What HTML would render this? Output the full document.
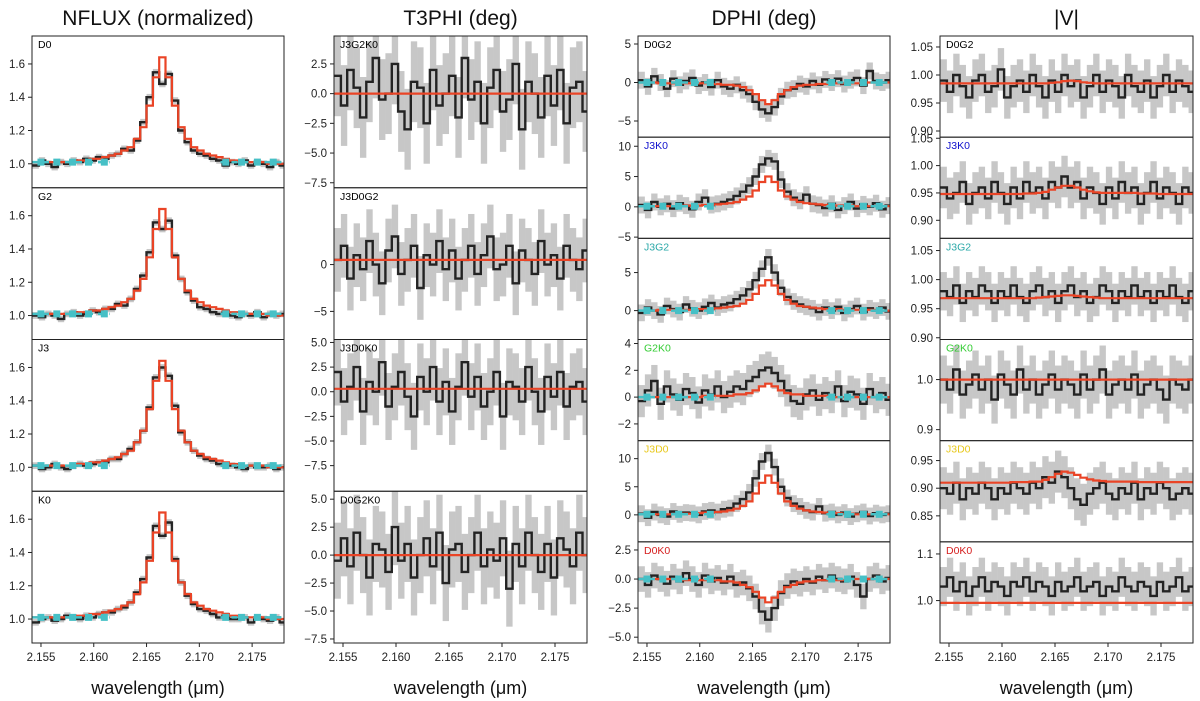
<!DOCTYPE html>
<html><head><meta charset="utf-8"><style>
html,body{margin:0;padding:0;background:#fff;}
svg{display:block;font-family:"Liberation Sans","DejaVu Sans",sans-serif;}
</style></head><body>
<svg id="fig" width="1200" height="701" viewBox="0 0 1200 701" xmlns="http://www.w3.org/2000/svg">
<defs id="defs"></defs>
<g id="root"></g>
</svg>
<script>
// ---- data (bins start 2.1542, width 0.0006, 40 bins) ----
const binStart = 2.1542;
const binWidth = 0.0006;
const xTicks = [2.155, 2.160, 2.165, 2.170, 2.175];
const xTickLabels = ["2.155", "2.160", "2.165", "2.170", "2.175"];
const contWl = [2.155, 2.1565, 2.158, 2.1595, 2.161, 2.1725, 2.174, 2.1755, 2.177];

const nfluxModel = [1.01,1.01,1.01,1.01,1.01,1.01,1.01,1.02,1.02,1.03,1.03,1.04,1.05,1.06,1.08,1.10,1.15,1.22,1.35,1.52,1.64,1.52,1.35,1.22,1.15,1.10,1.08,1.06,1.05,1.04,1.03,1.02,1.02,1.01,1.01,1.01,1.01,1.00,1.00,1.00];
const nfluxD0 = [0.99,1.02,1.00,0.98,1.01,1.00,1.02,1.01,1.03,1.02,1.04,1.03,1.05,1.06,1.09,1.08,1.14,1.25,1.40,1.55,1.48,1.54,1.38,1.20,1.13,1.08,1.06,1.05,1.03,1.02,0.99,1.01,1.00,1.02,0.99,1.01,1.00,0.98,1.01,0.99];
const nfluxG2 = [1.00,0.99,1.01,1.00,0.98,1.01,1.02,1.00,1.01,1.03,1.02,1.04,1.04,1.07,1.06,1.10,1.16,1.24,1.38,1.56,1.52,1.57,1.36,1.22,1.14,1.09,1.05,1.04,1.02,1.01,1.02,1.00,0.99,1.01,1.00,1.02,0.99,1.01,1.00,1.01];
const nfluxJ3 = [1.01,0.99,1.00,1.02,1.00,0.99,1.01,1.02,1.01,1.02,1.03,1.03,1.05,1.05,1.08,1.11,1.15,1.22,1.36,1.54,1.60,1.55,1.37,1.21,1.15,1.10,1.07,1.05,1.04,1.02,1.01,1.01,1.00,0.99,1.01,1.00,1.00,1.01,0.99,1.00];
const nfluxK0 = [0.98,1.00,1.01,0.99,1.00,1.02,1.01,1.00,1.02,1.01,1.03,1.04,1.04,1.06,1.07,1.10,1.16,1.24,1.37,1.56,1.50,1.58,1.36,1.22,1.14,1.09,1.06,1.05,1.03,1.01,1.02,1.00,1.00,1.01,0.98,1.01,1.00,0.99,1.01,0.98];

const t3Model1 = [0,0,0,0,0,0,0,0,0,0,0,0,0,0,0,0,0,0,0,0,0,0,0,0,0,0,0,0,0,0,0,0,0,0,0,0,0,0,0,0];
const t3Model2 = [0.5,0.5,0.5,0.5,0.5,0.5,0.5,0.5,0.5,0.5,0.5,0.5,0.5,0.5,0.5,0.5,0.5,0.5,0.5,0.5,0.5,0.5,0.5,0.5,0.5,0.5,0.5,0.5,0.5,0.5,0.5,0.5,0.5,0.5,0.5,0.5,0.5,0.5,0.5,0.5];
const t3Model3 = [0.3,0.3,0.3,0.3,0.3,0.3,0.3,0.3,0.3,0.3,0.3,0.3,0.3,0.3,0.3,0.3,0.3,0.3,0.3,0.3,0.3,0.3,0.3,0.3,0.3,0.3,0.3,0.3,0.3,0.3,0.3,0.3,0.3,0.3,0.3,0.3,0.3,0.3,0.3,0.3];
const t3Model4 = [0,0,0,0,0,0,0,0,0,0,0,0,0,0,0,0,0,0,0,0,0,0,0,0,0,0,0,0,0,0,0,0,0,0,0,0,0,0,0,0];
const t3Obs1 = [1.5,-1.0,2.0,0.5,-2.0,1.0,3.0,-0.5,0.0,2.5,-1.5,-3.0,1.0,0.5,-2.5,2.0,-1.0,0.0,1.5,-2.0,3.0,-0.5,1.0,-2.5,0.5,2.0,-1.5,-0.5,2.5,-3.0,1.0,0.0,-2.0,1.5,-1.0,2.0,-2.5,0.5,1.0,-1.5];
const t3Obs2 = [0.5,2.0,-1.5,1.0,-0.5,2.5,0.0,-2.0,1.5,3.0,-1.0,0.5,2.0,-2.5,1.0,0.0,2.5,-0.5,1.5,-1.5,0.5,2.0,-1.0,1.0,3.0,-0.5,0.0,2.0,-2.0,1.5,0.5,-1.0,2.5,0.0,1.0,-1.5,2.0,0.5,-0.5,1.5];
const t3Obs3 = [2.0,-1.0,0.5,2.5,-2.0,1.0,0.0,3.0,-1.5,0.5,2.0,-0.5,-2.5,1.5,0.0,2.5,-1.0,1.0,-2.0,0.5,3.0,-0.5,1.5,-1.5,0.0,2.0,-2.5,1.0,0.5,-1.0,2.5,0.0,-2.0,1.5,-0.5,2.0,-1.5,0.5,1.0,-1.0];
const t3Obs4 = [-0.5,1.5,-1.0,2.0,0.0,-2.0,1.0,0.5,-1.5,2.5,-0.5,1.0,-2.0,0.0,1.5,-1.0,2.0,-2.5,0.5,1.0,-1.5,0.0,2.0,-1.0,0.5,-0.5,1.5,-3.0,1.0,-1.0,2.0,0.0,-1.5,1.0,-2.0,1.5,0.5,-1.0,2.0,0.0];

const dphiModel1 = [0,0,0,-0.1,-0.1,-0.1,-0.1,-0.1,-0.1,-0.1,-0.1,-0.2,-0.2,-0.3,-0.3,-0.4,-0.6,-1.0,-1.5,-2.3,-2.8,-2.3,-1.5,-1.0,-0.6,-0.4,-0.3,-0.3,-0.2,-0.2,-0.1,-0.1,-0.1,-0.1,-0.1,0,0,0,0,0];
const dphiObs1 = [0.3,-0.5,0.8,0.0,-0.8,0.5,-0.3,0.2,0.6,-0.4,0.0,-0.6,0.3,-0.5,-0.8,-0.3,-1.0,-1.5,-2.5,-3.5,-4.0,-3.2,-1.8,-1.0,-0.8,-0.2,-0.5,0.2,-0.3,0.4,0.0,0.5,-0.2,0.3,0.6,-0.4,1.5,0.2,0.0,0.3];
const dphiModel2 = [0.1,0.1,0.1,0.1,0.1,0.1,0.1,0.2,0.2,0.2,0.3,0.3,0.4,0.5,0.6,0.8,1.2,1.7,2.7,4.1,5.0,4.1,2.7,1.7,1.2,0.8,0.6,0.5,0.4,0.3,0.3,0.2,0.2,0.2,0.1,0.1,0.1,0.1,0.1,0.1];
const dphiObs2 = [0.3,-0.5,0.8,0.0,0.5,-0.3,0.6,0.2,-0.4,0.8,1.5,0.3,0.5,0.8,1.2,1.8,2.5,3.5,5.0,7.0,8.0,7.5,4.5,2.5,1.5,1.0,2.0,0.5,0.3,-0.2,0.5,-0.5,0.2,0.8,-0.3,0.4,0.0,0.6,-0.4,0.2];
const dphiModel3 = [0.0,0.0,0.0,0.1,0.1,0.1,0.1,0.1,0.1,0.2,0.2,0.2,0.3,0.4,0.5,0.6,0.9,1.4,2.2,3.3,4.0,3.3,2.2,1.4,0.9,0.6,0.5,0.4,0.3,0.2,0.2,0.2,0.1,0.1,0.1,0.1,0.1,0.1,0.0,0.0];
const dphiObs3 = [-0.3,0.4,0.0,-0.5,0.6,0.2,-0.2,0.8,0.3,0.0,0.5,1.0,0.4,0.8,1.0,1.5,2.0,2.8,4.0,5.5,7.0,5.0,3.0,1.8,1.2,0.8,0.5,0.3,-0.2,0.4,0.0,0.5,-0.3,0.2,0.6,-0.2,0.3,0.0,0.4,-0.1];
const dphiModel4 = [0,0,0,0,0,0,0,0,0,0,0.1,0.1,0.1,0.1,0.1,0.2,0.2,0.3,0.5,0.8,1.0,0.8,0.5,0.3,0.2,0.2,0.1,0.1,0.1,0.1,0,0,0,0,0,0,0,0,0,0];
const dphiObs4 = [-0.3,0.5,1.2,-0.5,0.8,0.2,-0.2,0.6,0.3,-0.4,0.5,0.2,0.8,0.0,0.4,0.8,0.6,1.2,1.5,2.0,2.2,1.8,1.2,0.5,-0.3,-0.5,0.2,0.5,-0.2,0.3,0.0,0.8,-0.3,0.4,0.2,-0.5,0.6,0.0,0.3,-0.2];
const dphiModel5 = [0.1,0.1,0.1,0.1,0.1,0.1,0.1,0.2,0.2,0.3,0.4,0.4,0.5,0.6,0.8,1.1,1.6,2.4,3.8,5.7,7.0,5.7,3.8,2.4,1.6,1.1,0.8,0.6,0.5,0.4,0.4,0.3,0.2,0.2,0.1,0.1,0.1,0.1,0.1,0.1];
const dphiObs5 = [0.2,-0.5,0.5,0.0,-0.3,0.6,0.1,0.4,0.3,0.0,0.6,0.8,0.5,1.0,1.2,2.0,2.8,4.0,6.5,9.5,11.0,8.5,5.0,3.0,2.0,1.5,0.8,0.5,1.5,0.3,0.5,0.0,0.4,-0.3,0.2,0.5,-0.2,0.3,0.0,0.2];
const dphiModel6 = [0,0,0,0,0,0,0,-0.1,-0.1,-0.1,-0.1,-0.1,-0.1,-0.2,-0.2,-0.3,-0.5,-0.7,-1.1,-1.6,-2.0,-1.6,-1.1,-0.7,-0.5,-0.3,-0.2,-0.2,-0.1,-0.1,-0.1,-0.1,-0.1,0,0,0,0,0,0,0];
const dphiObs6 = [0.0,-0.5,0.3,0.0,-0.4,0.2,-0.2,0.5,0.0,-0.5,0.3,-0.2,0.1,-0.3,0.2,-0.5,-0.3,-0.8,-1.5,-2.8,-3.5,-2.5,-1.2,-0.6,-0.2,-0.4,0.0,-0.3,0.2,-0.1,0.3,0.0,-0.2,0.2,-0.5,-1.5,0.0,0.3,-0.2,0.1];

const visModel1 = [0.985,0.985,0.985,0.985,0.985,0.985,0.985,0.985,0.985,0.985,0.985,0.985,0.985,0.985,0.985,0.985,0.985,0.986,0.987,0.989,0.990,0.989,0.987,0.986,0.985,0.985,0.985,0.985,0.985,0.985,0.985,0.985,0.985,0.985,0.985,0.985,0.985,0.985,0.985,0.985];
const visObs1 = [0.99,0.97,1.00,0.98,0.96,0.99,1.00,0.97,0.98,1.01,0.96,0.98,0.99,0.97,1.00,0.98,0.96,0.99,0.97,1.00,0.98,0.99,0.96,0.98,1.00,0.97,0.99,0.98,0.96,1.00,0.98,0.97,0.99,0.96,0.98,1.00,0.97,0.99,0.98,0.97];
const visModel2 = [0.948,0.948,0.948,0.948,0.948,0.948,0.948,0.948,0.948,0.948,0.948,0.948,0.948,0.949,0.949,0.950,0.952,0.956,0.960,0.963,0.963,0.960,0.956,0.953,0.951,0.950,0.950,0.950,0.950,0.950,0.950,0.949,0.949,0.949,0.948,0.948,0.948,0.948,0.948,0.948];
const visObs2 = [0.96,0.94,0.95,0.97,0.93,0.95,0.96,0.94,0.97,0.95,0.93,0.96,0.94,0.97,0.95,0.96,0.94,0.97,0.96,0.98,0.96,0.97,0.94,0.96,0.95,0.93,0.96,0.94,0.97,0.95,0.96,0.93,0.95,0.97,0.94,0.96,0.95,0.93,0.96,0.95];
const visModel3 = [0.968,0.968,0.968,0.968,0.968,0.968,0.968,0.968,0.968,0.968,0.968,0.968,0.968,0.968,0.968,0.969,0.970,0.971,0.972,0.973,0.973,0.972,0.971,0.970,0.969,0.968,0.968,0.968,0.968,0.968,0.968,0.968,0.968,0.968,0.968,0.968,0.968,0.968,0.968,0.968];
const visObs3 = [0.98,0.97,0.99,0.96,0.98,0.97,0.99,0.98,0.96,0.98,0.97,0.99,0.97,0.96,0.98,0.99,0.97,0.98,0.96,0.98,0.99,0.97,0.98,0.96,0.97,0.99,0.98,0.96,0.98,0.97,0.99,0.97,0.98,0.96,0.98,0.97,0.99,0.97,0.96,0.98];
const visModel4 = [1.0,1.0,1.0,1.0,1.0,1.0,1.0,1.0,1.0,1.0,1.0,1.0,1.0,1.0,1.0,1.0,1.0,1.0,1.0,1.0,1.0,1.0,1.0,1.0,1.0,1.0,1.0,1.0,1.0,1.0,1.0,1.0,1.0,1.0,1.0,1.0,1.0,1.0,1.0,1.0];
const visObs4 = [1.00,0.98,1.02,0.97,0.99,1.01,0.98,1.00,0.96,1.01,0.99,0.97,1.02,0.98,1.00,0.97,0.99,1.01,0.98,1.00,0.99,0.97,1.01,0.98,1.00,1.02,0.97,0.99,1.00,0.98,1.01,0.97,0.99,1.00,0.98,0.96,1.00,0.99,0.98,1.00];
const visModel5 = [0.910,0.910,0.910,0.910,0.910,0.910,0.910,0.910,0.910,0.910,0.910,0.911,0.911,0.911,0.912,0.912,0.915,0.920,0.926,0.930,0.928,0.924,0.919,0.916,0.914,0.913,0.912,0.912,0.912,0.912,0.912,0.911,0.911,0.911,0.911,0.911,0.911,0.911,0.911,0.911];
const visObs5 = [0.90,0.89,0.91,0.88,0.90,0.89,0.91,0.90,0.88,0.90,0.89,0.91,0.90,0.89,0.91,0.90,0.92,0.91,0.93,0.92,0.90,0.88,0.87,0.89,0.90,0.91,0.89,0.88,0.90,0.89,0.91,0.88,0.90,0.89,0.91,0.90,0.88,0.89,0.90,0.89];
const visModel6 = [0.995,0.995,0.995,0.995,0.995,0.995,0.995,0.995,0.995,0.995,0.995,0.995,0.995,0.995,0.995,0.995,0.995,0.995,0.995,0.995,0.995,0.995,0.995,0.995,0.995,0.995,0.995,0.995,0.995,0.995,0.995,0.995,0.995,0.995,0.995,0.995,0.995,0.995,0.995,0.995];
const visObs6 = [1.03,1.05,1.02,1.04,1.01,1.03,1.05,1.02,1.04,1.03,1.01,1.04,1.03,1.05,1.02,1.04,1.03,1.01,1.04,1.02,1.03,1.05,1.02,1.03,1.04,1.01,1.03,1.02,1.05,1.03,1.02,1.04,1.03,1.01,1.04,1.02,1.03,1.05,1.02,1.03];

const nfluxTicks = [1.0, 1.2, 1.4, 1.6];
const nfluxTickLabels = ["1.0", "1.2", "1.4", "1.6"];
const t3TicksA = [-7.5, -5, -2.5, 0, 2.5];
const t3TickLabelsA = ["\u22127.5", "\u22125.0", "\u22122.5", "0.0", "2.5"];
const t3TicksB = [-5, 0];
const t3TickLabelsB = ["\u22125", "0"];
const t3TicksC = [-7.5, -5, -2.5, 0, 2.5, 5];
const t3TickLabelsC = ["\u22127.5", "\u22125.0", "\u22122.5", "0.0", "2.5", "5.0"];
const dphiTicks1 = [-5, 0, 5];
const dphiTickLabels1 = ["\u22125", "0", "5"];
const dphiTicks2 = [-5, 0, 5, 10];
const dphiTickLabels2 = ["\u22125", "0", "5", "10"];
const dphiTicks3 = [0, 5];
const dphiTickLabels3 = ["0", "5"];
const dphiTicks4 = [-2, 0, 2, 4];
const dphiTickLabels4 = ["\u22122", "0", "2", "4"];
const dphiTicks5 = [0, 5, 10];
const dphiTickLabels5 = ["0", "5", "10"];
const dphiTicks6 = [-5, -2.5, 0, 2.5];
const dphiTickLabels6 = ["\u22125.0", "\u22122.5", "0.0", "2.5"];
const visTicksA = [0.90, 0.95, 1.00, 1.05];
const visTickLabelsA = ["0.90", "0.95", "1.00", "1.05"];
const visTicks4 = [0.9, 1.0];
const visTickLabels4 = ["0.9", "1.0"];
const visTicks5 = [0.85, 0.90, 0.95];
const visTickLabels5 = ["0.85", "0.90", "0.95"];
const visTicks6 = [1.0, 1.1];
const visTickLabels6 = ["1.0", "1.1"];

// ---- layout ----
const XMIN = 2.15415, XMAX = 2.17802;
const TOP = 36, BOTTOM = 643;
const cols = [{x:32,w:252},{x:334,w:253},{x:638,w:252},{x:940,w:253}];
const NS = "http://www.w3.org/2000/svg";
const root = document.getElementById('root');
const defs = document.getElementById('defs');

function mk(tag, attrs, parent) {
  const e = document.createElementNS(NS, tag);
  for (const k in attrs) e.setAttribute(k, attrs[k]);
  (parent || root).appendChild(e);
  return e;
}

const panels = [
  {c:0,r:0,n:4,ymin:0.856,ymax:1.768,obs:nfluxD0,model:nfluxModel,err:0.02,ticks:nfluxTicks,tl:nfluxTickLabels,label:"D0",color:"#000",cont:true,name:"nflux-d0"},
  {c:0,r:1,n:4,ymin:0.856,ymax:1.768,obs:nfluxG2,model:nfluxModel,err:0.02,ticks:nfluxTicks,tl:nfluxTickLabels,label:"G2",color:"#000",cont:true,name:"nflux-g2"},
  {c:0,r:2,n:4,ymin:0.856,ymax:1.768,obs:nfluxJ3,model:nfluxModel,err:0.02,ticks:nfluxTicks,tl:nfluxTickLabels,label:"J3",color:"#000",cont:true,name:"nflux-j3"},
  {c:0,r:3,n:4,ymin:0.856,ymax:1.768,obs:nfluxK0,model:nfluxModel,err:0.02,ticks:nfluxTicks,tl:nfluxTickLabels,label:"K0",color:"#000",cont:true,name:"nflux-k0"},
  {c:1,r:0,n:4,ymin:-7.92,ymax:4.85,obs:t3Obs1,model:t3Model1,err:3.4,ticks:t3TicksA,tl:t3TickLabelsA,label:"J3G2K0",color:"#000",cont:false,name:"t3phi-j3g2k0"},
  {c:1,r:1,n:4,ymin:-8.0,ymax:8.2,obs:t3Obs2,model:t3Model2,err:3.4,ticks:t3TicksB,tl:t3TickLabelsB,label:"J3D0G2",color:"#000",cont:false,name:"t3phi-j3d0g2"},
  {c:1,r:2,n:4,ymin:-10.1,ymax:5.3,obs:t3Obs3,model:t3Model3,err:3.4,ticks:t3TicksC,tl:t3TickLabelsC,label:"J3D0K0",color:"#000",cont:false,name:"t3phi-j3d0k0"},
  {c:1,r:3,n:4,ymin:-7.86,ymax:5.71,obs:t3Obs4,model:t3Model4,err:3.4,ticks:t3TicksC,tl:t3TickLabelsC,label:"D0G2K0",color:"#000",cont:false,name:"t3phi-d0g2k0"},
  {c:2,r:0,n:6,ymin:-7.1,ymax:6.04,obs:dphiObs1,model:dphiModel1,err:1.1,ticks:dphiTicks1,tl:dphiTickLabels1,label:"D0G2",color:"#000",cont:true,name:"dphi-d0g2"},
  {c:2,r:1,n:6,ymin:-5.2,ymax:11.5,obs:dphiObs2,model:dphiModel2,err:1.4,ticks:dphiTicks2,tl:dphiTickLabels2,label:"J3K0",color:"#1010cc",cont:true,name:"dphi-j3k0"},
  {c:2,r:2,n:6,ymin:-3.8,ymax:9.5,obs:dphiObs3,model:dphiModel3,err:1.1,ticks:dphiTicks3,tl:dphiTickLabels3,label:"J3G2",color:"#2aa8a8",cont:true,name:"dphi-j3g2"},
  {c:2,r:3,n:6,ymin:-3.25,ymax:4.3,obs:dphiObs4,model:dphiModel4,err:1.2,ticks:dphiTicks4,tl:dphiTickLabels4,label:"G2K0",color:"#33cc33",cont:true,name:"dphi-g2k0"},
  {c:2,r:4,n:6,ymin:-4.8,ymax:13.2,obs:dphiObs5,model:dphiModel5,err:1.5,ticks:dphiTicks5,tl:dphiTickLabels5,label:"J3D0",color:"#e8c81a",cont:true,name:"dphi-j3d0"},
  {c:2,r:5,n:6,ymin:-5.5,ymax:3.2,obs:dphiObs6,model:dphiModel6,err:1.1,ticks:dphiTicks6,tl:dphiTickLabels6,label:"D0K0",color:"#d62020",cont:true,name:"dphi-d0k0"},
  {c:3,r:0,n:6,ymin:0.889,ymax:1.0696,obs:visObs1,model:visModel1,err:0.038,ticks:visTicksA,tl:visTickLabelsA,label:"D0G2",color:"#000",cont:false,name:"vis-d0g2"},
  {c:3,r:1,n:6,ymin:0.867,ymax:1.052,obs:visObs2,model:visModel2,err:0.038,ticks:visTicksA,tl:visTickLabelsA,label:"J3K0",color:"#1010cc",cont:false,name:"vis-j3k0"},
  {c:3,r:2,n:6,ymin:0.897,ymax:1.071,obs:visObs3,model:visModel3,err:0.033,ticks:visTicksA,tl:visTickLabelsA,label:"J3G2",color:"#2aa8a8",cont:false,name:"vis-j3g2"},
  {c:3,r:3,n:6,ymin:0.878,ymax:1.08,obs:visObs4,model:visModel4,err:0.048,ticks:visTicks4,tl:visTickLabels4,label:"G2K0",color:"#33cc33",cont:false,name:"vis-g2k0"},
  {c:3,r:4,n:6,ymin:0.803,ymax:0.986,obs:visObs5,model:visModel5,err:0.038,ticks:visTicks5,tl:visTickLabels5,label:"J3D0",color:"#e8c81a",cont:false,name:"vis-j3d0"},
  {c:3,r:5,n:6,ymin:0.909,ymax:1.126,obs:visObs6,model:visModel6,err:0.042,ticks:visTicks6,tl:visTickLabels6,label:"D0K0",color:"#d62020",cont:false,name:"vis-d0k0"}
];

const titles = ["NFLUX (normalized)", "T3PHI (deg)", "DPHI (deg)", "|V|"];
titles.forEach((t, i) => {
  const c = cols[i];
  const el = mk('text', {x: c.x + c.w/2, y: 25, 'text-anchor':'middle', 'font-size':'21', fill:'#111'});
  el.textContent = t;
  
  
  const xl = mk('text', {x: c.x + c.w/2, y: 694, 'text-anchor':'middle', 'font-size':'18', fill:'#111'});
  xl.textContent = 'wavelength (\u03bcm)';
  
  
});

function stepPath(arr, X, Y) {
  let d = '';
  arr.forEach((v, k) => {
    const x0 = X(binStart + k*binWidth), x1 = X(binStart + (k+1)*binWidth), y = Y(v);
    d += (k === 0 ? 'M' : 'L') + x0.toFixed(1) + ',' + y.toFixed(1) + 'L' + x1.toFixed(1) + ',' + y.toFixed(1);
  });
  return d;
}

panels.forEach((p, idx) => {
  const c = cols[p.c];
  const ph = (BOTTOM - TOP) / p.n;
  const py = TOP + p.r * ph, px = c.x, pw = c.w;
  const X = v => px + (v - XMIN) / (XMAX - XMIN) * pw;
  const Y = v => py + ph - (v - p.ymin) / (p.ymax - p.ymin) * ph;
  const g = mk('g', {});
  
  
  const cp = mk('clipPath', {id: 'cp' + idx}, defs);
  mk('rect', {x: px, y: py, width: pw, height: ph}, cp);
  const inner = mk('g', {'clip-path': 'url(#cp' + idx + ')'}, g);
  p.obs.forEach((v, k) => {
    const x0 = X(binStart + k*binWidth), x1 = X(binStart + (k+1)*binWidth);
    const r = mk('rect', {x: x0, y: Y(v + p.err), width: x1 - x0, height: Y(v - p.err) - Y(v + p.err), fill:'#000', 'fill-opacity':'0.22'}, inner);
    
    
  });
  const ob = mk('path', {d: stepPath(p.obs, X, Y), fill:'none', stroke:'#111', 'stroke-width':'2.4', 'stroke-opacity':'0.9'}, inner);
  
  
  const md = mk('path', {d: stepPath(p.model, X, Y), fill:'none', stroke:'#ea4426', 'stroke-width':'2.2'}, inner);
  
  
  if (p.cont) {
    const base = p.model[0];
    contWl.forEach(w => {
      const s = mk('rect', {x: X(w) - 3.5, y: Y(base) - 3.5, width: 7, height: 7, fill:'#46c0c6'}, inner);
      
      
    });
    const segs = [[XMIN, 2.1615], [2.172, XMAX]];
    segs.forEach(sg => {
      const l = mk('line', {x1: X(sg[0]), x2: X(sg[1]), y1: Y(base), y2: Y(base), stroke:'#46c0c6', 'stroke-width':'2.5', 'stroke-dasharray':'6,5'}, inner);
      
      
    });
  }
  const fr = mk('rect', {x: px, y: py, width: pw, height: ph, fill:'none', stroke:'#222', 'stroke-width':'1'}, g);
  
  
  p.ticks.forEach((t, i) => {
    const y = Y(t);
    if (y < py - 2 || y > py + ph + 2) return;
    mk('line', {x1: px - 4, x2: px, y1: y, y2: y, stroke:'#222', 'stroke-width':'1'}, g);
    const tx = mk('text', {x: px - 7, y: y + 4, 'text-anchor':'end', 'font-size':'11.5', fill:'#222'}, g);
    tx.textContent = p.tl[i];
    
    
  });
  const lb = mk('text', {x: px + 6, y: py + 12, 'font-size':'10.5', fill: p.color}, g);
  lb.textContent = p.label;
  
  
  if (p.r === p.n - 1) {
    xTicks.forEach((t, i) => {
      const x = X(t);
      mk('line', {x1: x, x2: x, y1: py + ph, y2: py + ph + 4, stroke:'#222', 'stroke-width':'1'}, g);
      const tx = mk('text', {x: x, y: py + ph + 18, 'text-anchor':'middle', 'font-size':'11.5', fill:'#222'}, g);
      tx.textContent = xTickLabels[i];
      
      
    });
  }
});
</script>
</body></html>
